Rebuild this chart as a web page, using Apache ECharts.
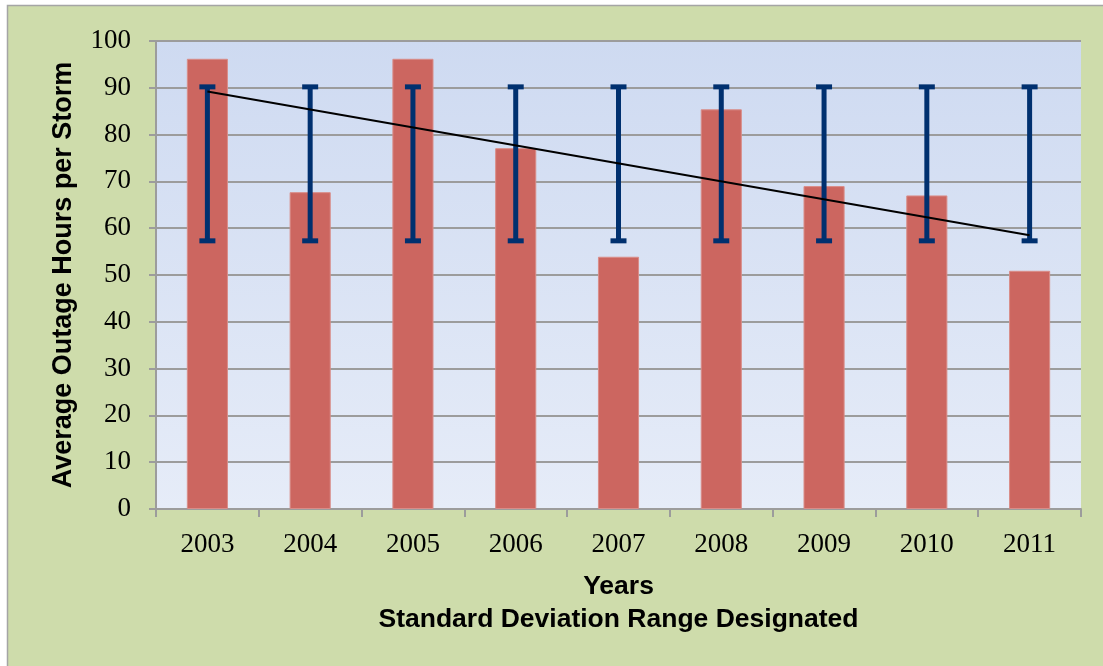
<!DOCTYPE html>
<html>
<head>
<meta charset="utf-8">
<script src="https://cdn.jsdelivr.net/npm/echarts@6/dist/echarts.min.js"></script>
<style>
  html, body { margin: 0; padding: 0; background: #fff; }
  #chart { width: 1103px; height: 666px; }
</style>
</head>
<body>
<div id="chart"></div>
<script>
// data
var years = ["2003", "2004", "2005", "2006", "2007", "2008", "2009", "2010", "2011"];
var avgHours = [96.2, 67.7, 96.2, 77.1, 53.9, 85.4, 69.0, 67.0, 50.9];
var errLow = [57.3, 57.3, 57.3, 57.3, 57.3, 57.3, 57.3, 57.3, 57.3];
var errHigh = [90.2, 90.2, 90.2, 90.2, 90.2, 90.2, 90.2, 90.2, 90.2];
var trend = [89.2, null, null, null, null, null, null, null, 58.5];
var yTicks = [0, 10, 20, 30, 40, 50, 60, 70, 80, 90, 100];

var myChart = echarts.init(document.getElementById("chart"));

var option = {
  animation: false,
  backgroundColor: "#ffffff",
  graphic: [
    {
      type: "rect",
      z: -10,
      silent: true,
      shape: { x: 7.5, y: 5.5, width: 1110, height: 680 },
      style: { fill: "#cedcab", stroke: "#a5a5a5", lineWidth: 1.5 },
    },
  ],
  grid: {
    left: 156,
    right: 22,
    top: 41,
    bottom: 157,
    show: true,
    borderWidth: 0,
    backgroundColor: new echarts.graphic.LinearGradient(0, 0, 0, 1, [
      { offset: 0, color: "#cedaf1" },
      { offset: 1, color: "#e6ecf8" },
    ]),
  },
  xAxis: {
    type: "category",
    data: years,
    boundaryGap: true,
    name: "Years\nStandard Deviation Range Designated",
    nameLocation: "middle",
    nameGap: 61,
    nameTextStyle: {
      fontFamily: "Liberation Sans",
      fontWeight: "bold",
      fontSize: 26.5,
      color: "#000",
      lineHeight: 33,
    },
    axisLine: { show: true, lineStyle: { color: "#9c9c9c", width: 2 } },
    axisTick: { show: true, length: 8, lineStyle: { color: "#9c9c9c", width: 2 } },
    axisLabel: {
      margin: 22,
      fontFamily: "Liberation Serif",
      fontSize: 27,
      color: "#000",
    },
  },
  yAxis: {
    type: "value",
    min: yTicks[0],
    max: yTicks[yTicks.length - 1],
    interval: 10,
    name: "Average Outage Hours per Storm",
    nameLocation: "middle",
    nameGap: 79,
    nameTextStyle: {
      fontFamily: "Liberation Sans",
      fontWeight: "bold",
      fontSize: 27,
      color: "#000",
    },
    axisLine: { show: true, lineStyle: { color: "#9c9c9c", width: 2 } },
    axisTick: { show: true, length: 7, lineStyle: { color: "#9c9c9c", width: 2 } },
    axisLabel: {
      margin: 25,
      fontFamily: "Liberation Serif",
      fontSize: 27,
      color: "#000",
    },
    splitLine: { show: true, lineStyle: { color: "#9c9c9c", width: 2 } },
  },
  series: [
    {
      name: "Average",
      type: "bar",
      barWidth: "40%",
      itemStyle: { color: "#cc6660", borderColor: "#d98d88", borderWidth: 1 },
      data: avgHours,
      z: 2,
    },
    {
      name: "Std dev",
      type: "custom",
      z: 3,
      renderItem: function (params, api) {
        var idx = api.value(0);
        var lo = api.coord([idx, api.value(1)]);
        var hi = api.coord([idx, api.value(2)]);
        var half = 8;
        var st = { stroke: "#00306f", lineWidth: 5 };
        return {
          type: "group",
          children: [
            { type: "line", shape: { x1: lo[0], y1: lo[1], x2: hi[0], y2: hi[1] }, style: st },
            { type: "line", shape: { x1: lo[0] - half, y1: lo[1], x2: lo[0] + half, y2: lo[1] }, style: st },
            { type: "line", shape: { x1: hi[0] - half, y1: hi[1], x2: hi[0] + half, y2: hi[1] }, style: st },
          ],
        };
      },
      encode: { x: 0, y: [1, 2] },
      data: years.map(function (y, i) {
        return [i, errLow[i], errHigh[i]];
      }),
    },
    {
      name: "Trend",
      type: "line",
      z: 4,
      symbol: "none",
      connectNulls: true,
      lineStyle: { color: "#000", width: 2 },
      data: trend,
    },
  ],
};

myChart.setOption(option);
</script>
</body>
</html>
